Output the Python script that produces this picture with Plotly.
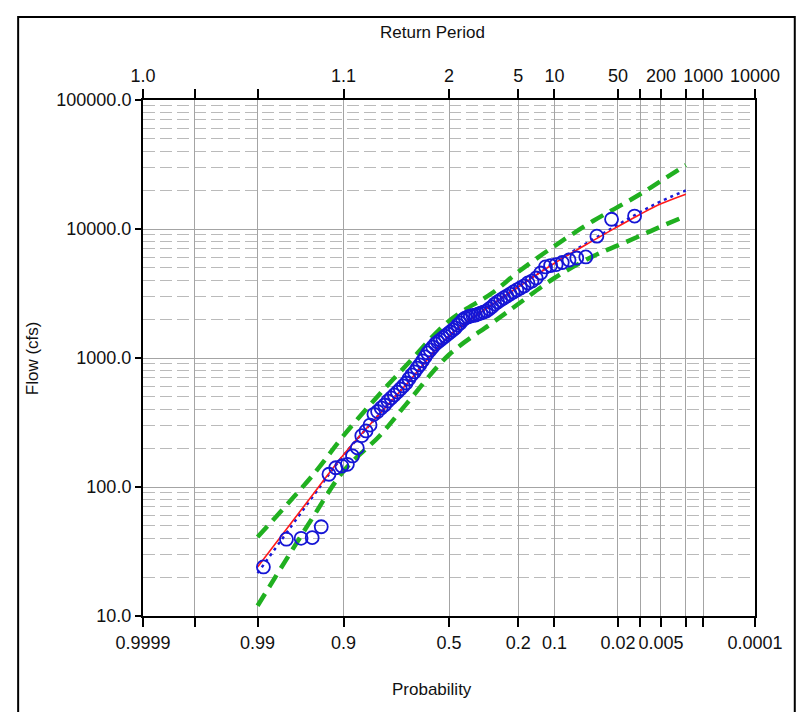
import plotly.graph_objects as go
from statistics import NormalDist

# ---------------- data ----------------
# Observed annual peak flows (cfs), ranked largest -> smallest
obs_flow = [12600, 11900, 8800, 6070, 5960, 5750, 5500, 5300, 5210, 5080,
            4560, 4170, 3950, 3820, 3620, 3490, 3370, 3250, 3130, 3020,
            2920, 2820, 2720, 2620, 2490, 2400, 2310, 2270, 2230, 2190,
            2150, 2135, 2115, 2080, 2040, 1970, 1870, 1800, 1710, 1650,
            1590, 1535, 1480, 1430, 1380, 1330, 1285, 1215, 1155, 1095,
            1020, 950, 885, 835, 780, 740, 690, 640, 607, 575,
            545, 517, 490, 464, 432, 410, 385, 366, 302, 272,
            250, 201, 174, 150, 145.5, 141, 125.5, 49.2, 40.5, 40, 39.4, 24]

# Exceedance probabilities at which the fitted curves are drawn
curve_prob = [0.99, 0.95, 0.9, 0.8, 0.7, 0.5, 0.3, 0.2, 0.1, 0.04, 0.02, 0.01, 0.005, 0.002]
fit_flow = [24, 89, 178, 370, 617, 1480, 2600, 3550, 5430, 8130, 10470, 13030, 15670, 18620]
alt_fit_flow = [21.5, 86, 176, 370, 620, 1480, 2620, 3580, 5500, 8300, 10800, 13550, 16400, 19900]
upper_flow = [41, 126, 250, 527, 870, 1940, 3190, 4650, 7380, 11530, 14830, 18660, 23550, 31300]
lower_flow = [12, 59.6, 133, 250, 435, 1060, 1870, 2620, 4170, 6140, 7460, 8870, 10450, 12600]

# Axis ticks
prob_ticks = [0.9999, 0.999, 0.99, 0.9, 0.5, 0.2, 0.1, 0.02, 0.01, 0.005, 0.002, 0.001, 0.0001]
prob_labels = ['0.9999', '', '0.99', '0.9', '0.5', '0.2', '0.1', '0.02', '', '0.005', '', '', '0.0001']
period_labels = ['1.0', '', '', '1.1', '2', '5', '10', '50', '', '200', '', '1000', '10000']
flow_ticks = [10, 100, 1000, 10000, 100000]
flow_labels = ['10.0', '100.0', '1000.0', '10000.0', '100000.0']
minor_flow_ticks = [m * d for d in (10, 100, 1000, 10000) for m in range(2, 10)]

# ---------------- probability-scale transform ----------------
nd = NormalDist()


def zscale(p):
    return nd.inv_cdf(1.0 - p)


n = len(obs_flow)
obs_prob = [(i + 1) / (n + 1) for i in range(n)]  # Weibull plotting positions

obs_z = [zscale(p) for p in obs_prob]
curve_z = [zscale(p) for p in curve_prob]
tick_z = [zscale(p) for p in prob_ticks]
xr = [zscale(prob_ticks[0]), zscale(prob_ticks[-1])]

GREEN = '#20b020'
fig = go.Figure()
fig.add_trace(go.Scatter(x=curve_z, y=upper_flow, mode='lines', line_shape='spline',
                         line=dict(color=GREEN, width=4.5, dash='14px,8px'), hoverinfo='skip'))
fig.add_trace(go.Scatter(x=curve_z, y=lower_flow, mode='lines', line_shape='spline',
                         line=dict(color=GREEN, width=4.5, dash='14px,8px'), hoverinfo='skip'))
fig.add_trace(go.Scatter(x=curve_z, y=alt_fit_flow, mode='lines', line_shape='spline',
                         line=dict(color='#1a1ad8', width=2.5, dash='3px,4px'), hoverinfo='skip'))
fig.add_trace(go.Scatter(x=curve_z, y=fit_flow, mode='lines', line_shape='spline',
                         line=dict(color='#ff1a1a', width=1.6), hoverinfo='skip'))
fig.add_trace(go.Scatter(x=obs_z, y=obs_flow, mode='markers',
                         marker=dict(symbol='circle-open', size=13, color='#1515d5',
                                     line=dict(width=1.8, color='#1515d5'))))
# invisible trace to anchor the top (return period) axis
fig.add_trace(go.Scatter(x=curve_z, y=fit_flow, xaxis='x2', mode='lines',
                         line=dict(width=0), opacity=0, hoverinfo='skip'))

FONT = 'Liberation Sans, Arial, sans-serif'
TICKFONT = dict(family=FONT, size=18, color='#111111')
fig.update_layout(
    width=800, height=704,
    margin=dict(l=135, r=53, t=92, b=96),
    paper_bgcolor='white', plot_bgcolor='white',
    showlegend=False,
    font=dict(family=FONT, size=17, color='#111111'),
    xaxis=dict(range=xr, tickvals=tick_z, ticktext=prob_labels, tickfont=TICKFONT,
               ticks='outside', ticklen=9, tickwidth=1.5, tickcolor='black',
               showline=True, linecolor='black', linewidth=2,
               showgrid=True, gridcolor='#a4a4a4', gridwidth=1.2, zeroline=False),
    xaxis2=dict(overlaying='x', side='top', matches='x', range=xr,
                tickvals=tick_z, ticktext=period_labels, tickfont=TICKFONT,
                ticks='outside', ticklen=9, tickwidth=1.5, tickcolor='black',
                showline=True, linecolor='black', linewidth=2,
                showgrid=False, zeroline=False),
    yaxis=dict(type='log', range=[1, 5], tickvals=flow_ticks, ticktext=flow_labels,
               tickfont=TICKFONT,
               ticks='outside', ticklen=6, tickwidth=1.5, tickcolor='black',
               showline=True, mirror=True, linecolor='black', linewidth=2,
               showgrid=True, gridcolor='#a4a4a4', gridwidth=1.2, zeroline=False,
               minor=dict(tickvals=minor_flow_ticks, showgrid=True, gridcolor='#bababa',
                          griddash='12px,5px', gridwidth=1, ticks='')),
    annotations=[
        dict(text='Return Period', xref='paper', yref='paper', x=0.473, y=1.130,
             showarrow=False, xanchor='center', yanchor='middle', font=dict(size=17)),
        dict(text='Probability', xref='paper', yref='paper', x=0.473, y=-0.143,
             showarrow=False, xanchor='center', yanchor='middle', font=dict(size=17)),
        dict(text='Flow (cfs)', xref='paper', yref='paper', x=-0.181, y=0.5,
             textangle=-90, showarrow=False, xanchor='center', yanchor='middle',
             font=dict(size=17)),
    ],
    shapes=[dict(type='rect', xref='paper', yref='paper', x0=-0.204, x1=1.065,
                 y0=-0.25, y1=1.161, line=dict(color='black', width=2),
                 fillcolor='rgba(0,0,0,0)', layer='above')],
)

fig.write_html('out.html')
